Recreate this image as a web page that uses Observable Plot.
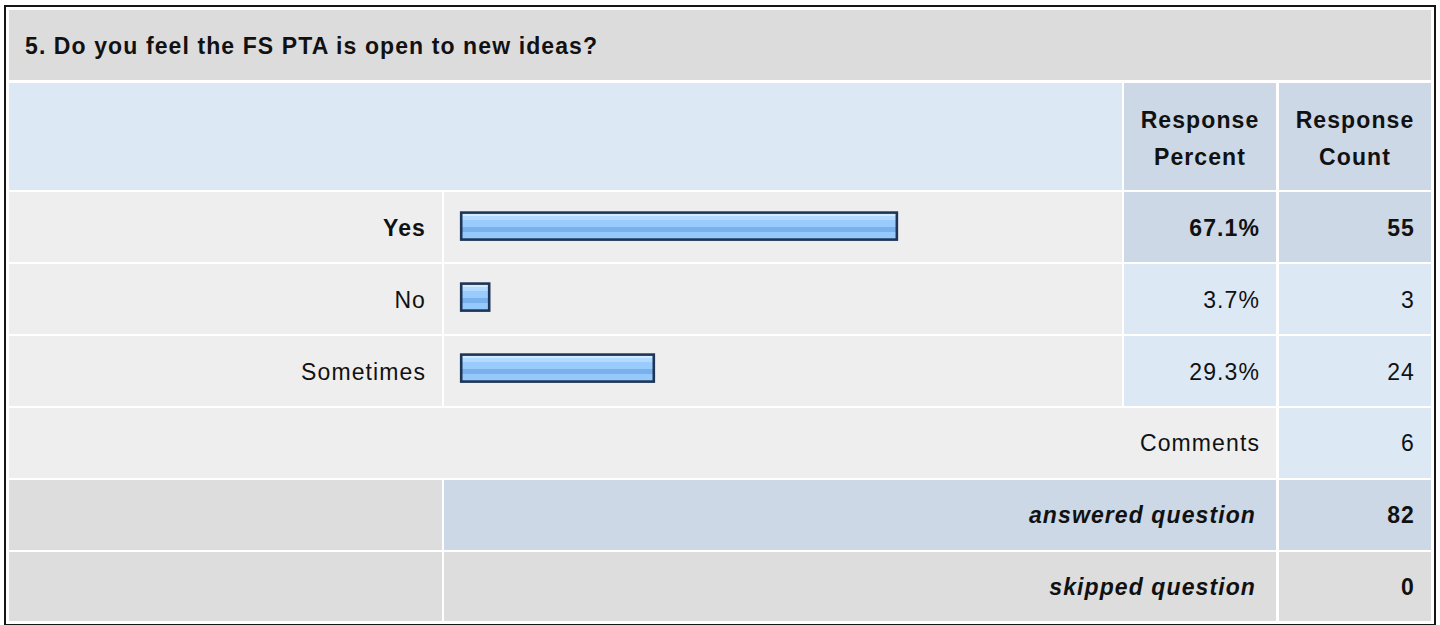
<!DOCTYPE html>
<html>
<head>
<meta charset="utf-8">
<script src="https://cdn.jsdelivr.net/npm/d3@7"></script>
<script src="https://cdn.jsdelivr.net/npm/@observablehq/plot@0.6"></script>
<style>
  html, body { margin: 0; padding: 0; background: #ffffff; overflow: hidden; }
  body { width: 1440px; height: 625px; position: relative; font-family: "Liberation Sans", Arial, Helvetica, sans-serif; color: #111; }
  .frame { position: absolute; left: 4px; top: 5px; width: 1432px; height: 621px; box-sizing: border-box; border: 2px solid #151515; }
  .cell { position: absolute; box-sizing: border-box; display: flex; align-items: center; font-size: 23px; letter-spacing: 1.1px; white-space: nowrap; }
  .right { justify-content: flex-end; padding-right: 16px; }
  .center { justify-content: center; text-align: center; }
  .bold { font-weight: bold; }
  .ital { font-style: italic; }
  #bars { position: absolute; left: 444px; top: 192px; z-index: 5; }
</style>
</head>
<body>
<div class="frame"></div>
<div id="bars"></div>
<script>
// ---- data ----
const title = "5. Do you feel the FS PTA is open to new ideas?";
const headerLabels = ["Response\nPercent", "Response\nCount"];
const categories = ["Yes", "No", "Sometimes"];
const percents = [67.1, 3.7, 29.3];
const counts = [55, 3, 24];
const commentsLabel = "Comments";
const commentsCount = 6;
const answeredLabel = "answered question";
const answeredCount = 82;
const skippedLabel = "skipped question";
const skippedCount = 0;

// ---- layout ----
const colX = { l0: 9, l1: 442, b0: 444, b1: 1122, p0: 1124, p1: 1276, c0: 1279, c1: 1431 };
const C_TITLE = "#dcdcdc", C_LIGHT = "#dde8f5", C_DARK = "#ccd8e6", C_ROW = "#eeeeee", C_GRAY = "#dddddd";

function cell(x0, x1, y0, y1, bg, text, cls = "", extra = {}) {
  const d = document.createElement("div");
  d.className = "cell " + cls;
  d.style.left = x0 + "px";
  d.style.top = y0 + "px";
  d.style.width = (x1 - x0) + "px";
  d.style.height = (y1 - y0) + "px";
  d.style.background = bg;
  Object.assign(d.style, extra);
  if (text !== undefined && text !== null && text !== "") {
    const inner = document.createElement("div");
    String(text).split("\n").forEach((t, k) => {
      if (k > 0) inner.appendChild(document.createElement("br"));
      inner.appendChild(document.createTextNode(t));
    });
    d.appendChild(inner);
  }
  document.body.appendChild(d);
  return d;
}

// title row
cell(colX.l0, colX.c1, 10, 80, C_TITLE, title, "bold", { paddingLeft: "16px", paddingTop: "2px" });
// header row
cell(colX.l0, colX.b1, 83, 190, C_LIGHT, "");
cell(colX.p0, colX.p1, 83, 190, C_DARK, headerLabels[0], "center bold", { lineHeight: "37px", paddingTop: "5px" });
cell(colX.c0, colX.c1, 83, 190, C_DARK, headerLabels[1], "center bold", { lineHeight: "37px", paddingTop: "5px" });

// answer rows
const rowTops = [192, 264, 336];
const rowBots = [262, 334, 406];
const maxCount = d3.max(counts);
categories.forEach((cat, i) => {
  const top = counts[i] === maxCount;
  const y0 = rowTops[i], y1 = rowBots[i];
  const b = top ? " bold" : "";
  cell(colX.l0, colX.l1, y0, y1, C_ROW, cat, "right" + b, { paddingTop: "3px" });
  cell(colX.b0, colX.b1, y0, y1, C_ROW, "");
  cell(colX.p0, colX.p1, y0, y1, top ? C_DARK : C_LIGHT, percents[i].toFixed(1) + "%", "right" + b, { paddingTop: "3px" });
  cell(colX.c0, colX.c1, y0, y1, top ? C_DARK : C_LIGHT, String(counts[i]), "right" + b, { paddingTop: "3px" });
});

// comments row
cell(colX.l0, colX.p1, 408, 478, C_ROW, commentsLabel, "right", { paddingTop: "1px" });
cell(colX.c0, colX.c1, 408, 478, C_LIGHT, String(commentsCount), "right", { paddingTop: "1px" });
// answered row
cell(colX.l0, colX.l1, 480, 550, C_GRAY, "");
cell(colX.b0, colX.p1, 480, 550, C_DARK, answeredLabel, "right bold ital", { paddingRight: "20px", paddingTop: "1px" });
cell(colX.c0, colX.c1, 480, 550, C_DARK, String(answeredCount), "right bold", { paddingTop: "1px" });
// skipped row
cell(colX.l0, colX.l1, 552, 621, C_GRAY, "");
cell(colX.b0, colX.p1, 552, 621, C_GRAY, skippedLabel, "right bold ital", { paddingRight: "20px", paddingTop: "1px" });
cell(colX.c0, colX.c1, 552, 621, C_GRAY, String(skippedCount), "right bold", { paddingTop: "1px" });

// ---- bars with Observable Plot ----
const barData = categories.map((c, i) => ({ cat: c, pct: percents[i] }));
const chart = Plot.plot({
  width: 678,
  height: 214,
  margin: 0,
  style: { background: "transparent", overflow: "visible" },
  x: { domain: [0, 100], range: [22.7, 665.7], axis: null },
  y: { domain: categories, range: [0, 214], padding: 0, axis: null },
  marks: [
    Plot.barX(barData, {
      x1: 0,
      x2: "pct",
      y: "cat",
      fill: "#99cbfc",
      stroke: "#1d3557",
      strokeWidth: 2.6,
      insetLeft: -5.5,
      insetRight: 1.3,
      insetTop: 19.6,
      insetBottom: 24.4
    })
  ]
});
const svg = d3.select(chart.tagName.toLowerCase() === "svg" ? chart : chart.querySelector("svg"));
const defs = svg.insert("defs", ":first-child");
const grad = defs.append("linearGradient").attr("id", "barGrad").attr("x1", 0).attr("y1", 0).attr("x2", 0).attr("y2", 1);
const stops = [
  [0.00, "#d2e9ff"], [0.14, "#d2e9ff"],
  [0.14, "#b4dbff"], [0.27, "#b4dbff"],
  [0.27, "#99cbfc"], [0.52, "#99cbfc"],
  [0.52, "#78b1ec"], [0.72, "#78b1ec"],
  [0.72, "#96c9fb"], [1.00, "#96c9fb"]
];
stops.forEach(([o, c]) => grad.append("stop").attr("offset", o).attr("stop-color", c));
svg.selectAll("g[aria-label='bar'] rect").attr("fill", "url(#barGrad)");
document.getElementById("bars").appendChild(chart);
</script>
</body>
</html>
